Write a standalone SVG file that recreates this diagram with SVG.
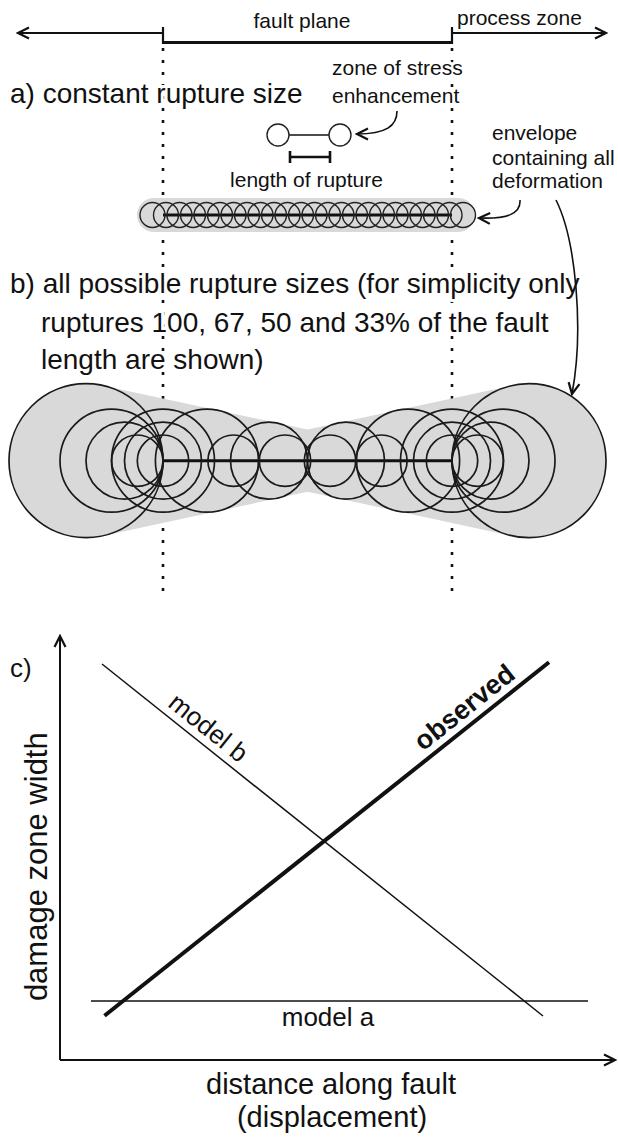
<svg xmlns="http://www.w3.org/2000/svg" width="618" height="1138" viewBox="0 0 618 1138">
<style>
text{font-family:"Liberation Sans",Arial,sans-serif;fill:#111}
.s{font-size:21px}
.m{font-size:28px}
.h{stroke:#fff;stroke-width:6;paint-order:stroke;stroke-linejoin:round}
.c{fill:none;stroke:#222;stroke-width:1.4}
.cb{fill:none;stroke:#1a1a1a;stroke-width:1.7}
.env{fill:#d9d9d9;stroke:none}
.dot{stroke:#111;stroke-width:2.6;stroke-dasharray:3 9;fill:none}
.ln{stroke:#111;fill:none}
</style>
<defs>
<marker id="ah" viewBox="0 0 14 14" refX="12" refY="7" markerWidth="14" markerHeight="14" markerUnits="userSpaceOnUse" orient="auto"><path d="M1 1.5 L12 7 L1 12.5" fill="none" stroke="#111" stroke-width="2.2"/></marker>
</defs>
<rect width="618" height="1138" fill="#fff"/>
<g id="dotted-guides">
<line class="dot" x1="163" y1="48" x2="163" y2="592"/>
<line class="dot" x1="452" y1="48" x2="452" y2="592"/>
</g>
<g id="fault-axis">
<line class="ln" x1="163" y1="33" x2="18" y2="33" stroke-width="2.2" marker-end="url(#ah)"/>
<line class="ln" x1="452" y1="33" x2="606" y2="33" stroke-width="2.2" marker-end="url(#ah)"/>
<line class="ln" x1="163" y1="42.5" x2="452" y2="42.5" stroke-width="3"/>
<line class="ln" x1="163" y1="27" x2="163" y2="44" stroke-width="2.2"/>
<line class="ln" x1="452" y1="27" x2="452" y2="44" stroke-width="2.2"/>
<text class="s" x="302" y="28" text-anchor="middle">fault plane</text>
<text class="s" x="457" y="25">process zone</text>
</g>
<g id="label-a">
<text class="m h" x="10" y="103">a) constant rupture size</text>
</g>
<g id="stress-label">
<text class="s h" x="332" y="75">zone of stress</text>
<text class="s h" x="332" y="103">enhancement</text>
</g>
<g id="rupture-symbol">
<line class="ln" x1="289" y1="135" x2="329" y2="135" stroke-width="1.6"/>
<circle class="c" cx="278" cy="135" r="11" stroke-width="1.6"/>
<circle class="c" cx="340" cy="135" r="11" stroke-width="1.6"/>
<line class="ln" x1="290" y1="157" x2="330" y2="157" stroke-width="2.6"/>
<line class="ln" x1="290" y1="151" x2="290" y2="163" stroke-width="2.6"/>
<line class="ln" x1="330" y1="151" x2="330" y2="163" stroke-width="2.6"/>
<text class="s h" x="306.5" y="187" text-anchor="middle">length of rupture</text>
</g>
<g id="row-a">
<rect class="env" x="137" y="198" width="338" height="34" rx="17"/>
<line class="ln" x1="163" y1="215" x2="452" y2="215" stroke-width="3"/>
<g class="c">
<circle cx="152.5" cy="215" r="12.5"/><circle cx="166" cy="215" r="12.5"/><circle cx="179.5" cy="215" r="12.5"/><circle cx="193" cy="215" r="12.5"/><circle cx="206.5" cy="215" r="12.5"/><circle cx="220" cy="215" r="12.5"/><circle cx="233.5" cy="215" r="12.5"/><circle cx="247" cy="215" r="12.5"/><circle cx="260.5" cy="215" r="12.5"/><circle cx="274" cy="215" r="12.5"/><circle cx="287.5" cy="215" r="12.5"/><circle cx="301" cy="215" r="12.5"/><circle cx="314.5" cy="215" r="12.5"/><circle cx="328" cy="215" r="12.5"/><circle cx="341.5" cy="215" r="12.5"/><circle cx="355" cy="215" r="12.5"/><circle cx="368.5" cy="215" r="12.5"/><circle cx="382" cy="215" r="12.5"/><circle cx="395.5" cy="215" r="12.5"/><circle cx="409" cy="215" r="12.5"/><circle cx="422.5" cy="215" r="12.5"/><circle cx="436" cy="215" r="12.5"/><circle cx="449.5" cy="215" r="12.5"/><circle cx="463" cy="215" r="12.5"/>
</g>
</g>
<g id="envelope-label">
<text class="s" x="492" y="140">envelope</text>
<text class="s" x="492" y="165">containing all</text>
<text class="s" x="492" y="188">deformation</text>
</g>
<g id="label-b">
<text class="m h" x="10" y="293">b) all possible rupture sizes (for simplicity only</text>
<text class="m h" x="41" y="332">ruptures 100, 67, 50 and 33% of the fault</text>
<text class="m h" x="41" y="369">length are shown)</text>
</g>
<g id="row-b">
<path class="env" d="M102.2 385.4 L452 460.7 L102.2 536 A77 77 0 1 1 102.2 385.4 Z"/>
<path class="env" d="M512.8 385.4 L163 460.7 L512.8 536 A77 77 0 1 0 512.8 385.4 Z"/>
<line class="ln" x1="163" y1="460.7" x2="452" y2="460.7" stroke-width="3"/>
<g class="cb">
<circle cx="86" cy="460.7" r="77"/><circle cx="529" cy="460.7" r="77"/>
<circle cx="111.5" cy="460.7" r="51.5"/><circle cx="408.1" cy="460.7" r="51.5"/>
<circle cx="206.9" cy="460.7" r="51.5"/><circle cx="503.5" cy="460.7" r="51.5"/>
<circle cx="163" cy="460.7" r="51.5"/><circle cx="452" cy="460.7" r="51.5"/>
<circle cx="124.5" cy="460.7" r="38.5"/><circle cx="346" cy="460.7" r="38.5"/>
<circle cx="269" cy="460.7" r="38.5"/><circle cx="490.5" cy="460.7" r="38.5"/>
<circle cx="163" cy="460.7" r="38.5"/><circle cx="452" cy="460.7" r="38.5"/>
<circle cx="137.3" cy="460.7" r="25.7"/><circle cx="285" cy="460.7" r="25.7"/>
<circle cx="233.6" cy="460.7" r="25.7"/><circle cx="381.4" cy="460.7" r="25.7"/>
<circle cx="330" cy="460.7" r="25.7"/><circle cx="477.7" cy="460.7" r="25.7"/>
<circle cx="163" cy="460.7" r="25.7"/><circle cx="452" cy="460.7" r="25.7"/>
</g>
</g>
<g id="connectors" fill="none" stroke="#111" stroke-width="1.6">
<path d="M397 111 C397 126 386 134 357 134" marker-end="url(#ah)"/>
<path d="M520 200 C521 214 507 219 479 218" marker-end="url(#ah)"/>
<path d="M556 200 C576 240 584 330 572 394" marker-end="url(#ah)"/>
</g>
<g id="chart">
<line class="ln" x1="60" y1="1060" x2="60" y2="636" stroke-width="2" marker-end="url(#ah)"/>
<line class="ln" x1="60" y1="1060" x2="615" y2="1060" stroke-width="2" marker-end="url(#ah)"/>
<line class="ln" x1="91" y1="1001" x2="588" y2="1001" stroke-width="1.5"/>
<line class="ln" x1="102" y1="664" x2="543" y2="1016" stroke-width="1.5"/>
<line class="ln" x1="104.5" y1="1015.7" x2="549" y2="662.3" stroke-width="4"/>
<text x="10" y="677" font-size="26">c)</text>
<text transform="translate(47 866.7) rotate(-90)" text-anchor="middle" font-size="31">damage zone width</text>
<text transform="translate(203 734.6) rotate(38.6)" text-anchor="middle" font-size="26">model b</text>
<text transform="translate(470 714.5) rotate(-38.5)" text-anchor="middle" font-size="27" font-weight="bold">observed</text>
<text x="328" y="1026" text-anchor="middle" font-size="26">model a</text>
<text x="331" y="1094" text-anchor="middle" font-size="29">distance along fault</text>
<text x="332" y="1127" text-anchor="middle" font-size="29">(displacement)</text>
</g>
</svg>
